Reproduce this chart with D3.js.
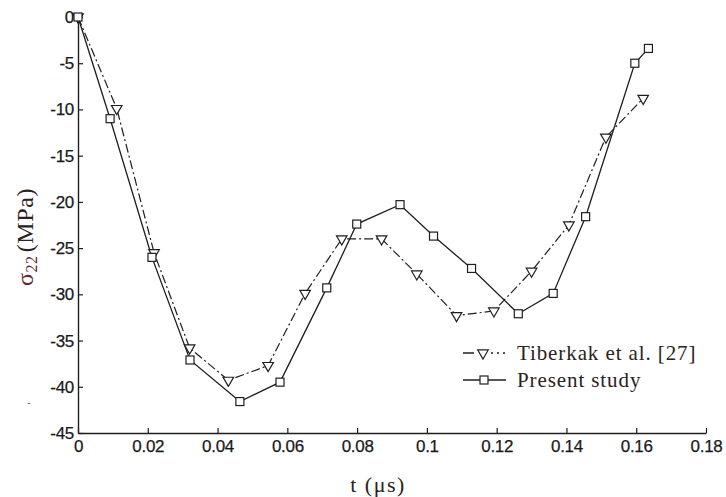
<!DOCTYPE html>
<html>
<head>
<meta charset="utf-8">
<script src="https://cdn.jsdelivr.net/npm/d3@7"></script>
<style>
  html, body { margin: 0; padding: 0; background: #fff; }
  svg { display: block; }
</style>
</head>
<body>
<svg id="chart" width="726" height="497"></svg>
<script>
// ---- data ----
const tiberkakT = [0, 0.0111, 0.0218, 0.0320, 0.0431, 0.0545, 0.0651, 0.0756, 0.0870, 0.0971, 0.1085, 0.1192, 0.1300, 0.1407, 0.1513, 0.1620];
const tiberkakV = [0, -9.9, -25.5, -35.8, -39.3, -37.7, -29.9, -24.0, -24.0, -27.8, -32.3, -31.8, -27.5, -22.5, -13.0, -8.8];
const presentT = [0, 0.0092, 0.0212, 0.0321, 0.0464, 0.0579, 0.0713, 0.0799, 0.0923, 0.1019, 0.1128, 0.1262, 0.1362, 0.1455, 0.1596, 0.1635];
const presentV = [0, -11.0, -26.0, -37.1, -41.6, -39.5, -29.3, -22.4, -20.3, -23.7, -27.2, -32.1, -29.9, -21.6, -5.0, -3.4];
const xTicks = [0, 0.02, 0.04, 0.06, 0.08, 0.1, 0.12, 0.14, 0.16, 0.18];
const yTicks = [0, -5, -10, -15, -20, -25, -30, -35, -40, -45];
const seriesNames = ["Tiberkak et al. [27]", "Present study"];

const svg = d3.select("#chart");
const x = d3.scaleLinear().domain([0, 0.18]).range([78, 706]);
const y = d3.scaleLinear().domain([-45, 0]).range([433, 17]);
const ink = "#1e1e1e";

// axes
const xAxis = d3.axisBottom(x).tickValues(xTicks).tickSize(-5).tickSizeOuter(0).tickPadding(7)
  .tickFormat(d => d === 0 ? "0" : String(+d.toFixed(2)));
const yAxis = d3.axisLeft(y).tickValues(yTicks).tickSize(-5).tickSizeOuter(0).tickPadding(4)
  .tickFormat(d => String(d));

const gx = svg.append("g").attr("transform", `translate(0,${y(-45)})`).call(xAxis);
const gy = svg.append("g").attr("transform", `translate(${x(0)},0)`).call(yAxis);
[gx, gy].forEach(g => {
  g.selectAll("path.domain").attr("stroke", ink).attr("stroke-width", 1.4);
  g.selectAll(".tick line").attr("stroke", ink).attr("stroke-width", 1.2);
  g.selectAll(".tick text").attr("fill", "#1a1a1a").attr("font-family", "'Liberation Sans', Arial, sans-serif")
    .attr("font-size", 17).attr("letter-spacing", "-0.3px").attr("stroke", "#1a1a1a").attr("stroke-width", 0.25);
});

// lines
const lineGen = d3.line().x(d => x(d[0])).y(d => y(d[1]));
const tibData = tiberkakT.map((t, i) => [t, tiberkakV[i]]);
const preData = presentT.map((t, i) => [t, presentV[i]]);

svg.append("path").datum(tibData).attr("d", lineGen).attr("fill", "none")
  .attr("stroke", ink).attr("stroke-width", 1.2).attr("stroke-dasharray", "9,3,2,3");
svg.append("path").datum(preData).attr("d", lineGen).attr("fill", "none")
  .attr("stroke", ink).attr("stroke-width", 1.3);

// markers
const tri = d3.symbol().type(d3.symbolTriangle).size(48);
function drawTri(sel) {
  sel.append("path").attr("d", tri()).attr("transform", "rotate(180)")
    .attr("fill", "#fff").attr("stroke", ink).attr("stroke-width", 1.2);
}
function drawSq(sel) {
  sel.append("rect").attr("x", -4).attr("y", -4).attr("width", 8).attr("height", 8)
    .attr("fill", "#fff").attr("stroke", ink).attr("stroke-width", 1.2);
}
svg.append("g").selectAll("g").data(tibData).join("g")
  .attr("transform", d => `translate(${x(d[0])},${y(d[1])})`).call(drawTri);
svg.append("g").selectAll("g").data(preData).join("g")
  .attr("transform", d => `translate(${x(d[0])},${y(d[1])})`).call(drawSq);

// legend
const lg = svg.append("g");
const rows = [353, 380];
lg.append("line").attr("x1", 463).attr("x2", 474).attr("y1", rows[0]).attr("y2", rows[0])
  .attr("stroke", ink).attr("stroke-width", 1.5);
lg.append("line").attr("x1", 491).attr("x2", 506).attr("y1", rows[0]).attr("y2", rows[0])
  .attr("stroke", ink).attr("stroke-width", 1.5).attr("stroke-dasharray", "2,4");
lg.append("g").attr("transform", `translate(483,${rows[0]})`).call(drawTri);
lg.append("line").attr("x1", 463).attr("x2", 506).attr("y1", rows[1]).attr("y2", rows[1])
  .attr("stroke", ink).attr("stroke-width", 1.5);
lg.append("g").attr("transform", `translate(484,${rows[1]})`).call(drawSq);
lg.selectAll("text.leg").data(seriesNames).join("text").attr("class", "leg")
  .attr("x", 517).attr("y", (d, i) => rows[i]).attr("dy", "0.35em")
  .attr("font-family", "'Liberation Serif', 'Times New Roman', serif").attr("font-size", 21)
  .attr("letter-spacing", "0.9px").attr("fill", "#2a2220").text(d => d);

// axis titles
svg.append("text").attr("x", 378).attr("y", 492).attr("text-anchor", "middle")
  .attr("font-family", "'Liberation Serif', 'Times New Roman', serif").attr("font-size", 22)
  .attr("letter-spacing", "1.5px").attr("fill", "#2a2220").text("t (\u03bcs)");

const yt = svg.append("text").attr("transform", "translate(33,237) rotate(-90)").attr("text-anchor", "middle")
  .attr("font-family", "'Liberation Serif', 'Times New Roman', serif").attr("font-size", 24)
  .attr("letter-spacing", "0.6px").attr("fill", "#2a2220");
yt.append("tspan").attr("fill", "#5a2a30").text("\u03c3");
yt.append("tspan").attr("fill", "#5a2a30").attr("font-size", 16).attr("dy", 4).text("22");
yt.append("tspan").attr("dy", -4).attr("dx", 3).text("(MPa)");

// stray scan mark near the lower left
svg.append("text").attr("x", 29).attr("y", 402).attr("dy", "0.35em").attr("text-anchor", "middle")
  .attr("font-family", "'Liberation Sans', Arial, sans-serif").attr("font-size", 10).attr("fill", "#555").text("-");
</script>
</body>
</html>
